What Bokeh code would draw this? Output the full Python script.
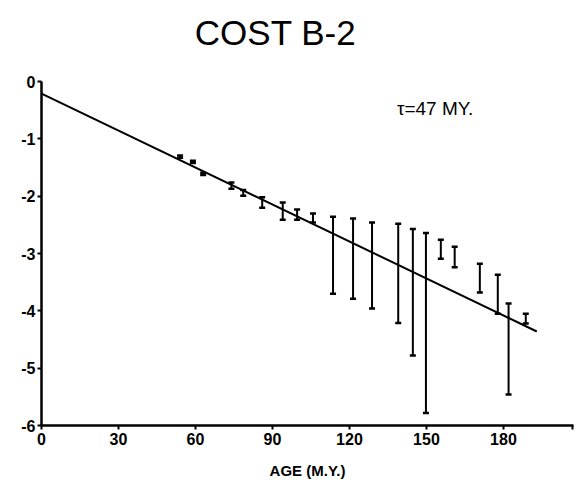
from bokeh.plotting import figure
from bokeh.models import FixedTicker, Label, Range1d, ColumnDataSource
from bokeh.embed import file_html
from bokeh.resources import INLINE

# ---- data ----
ages = [54, 59, 63, 74, 78.6, 86, 94, 99.6, 105.8, 113.6, 121.4, 128.8,
        139, 144.7, 149.8, 155.6, 161, 170.8, 177.8, 182, 188.7]
upper = [-1.29, -1.38, -1.59, -1.76, -1.89, -2.02, -2.11, -2.23, -2.30, -2.36,
         -2.39, -2.46, -2.48, -2.57, -2.64, -2.76, -2.88, -3.18, -3.37, -3.87, -4.05]
lower = [-1.33, -1.42, -1.63, -1.87, -1.99, -2.20, -2.41, -2.41, -2.46, -3.70,
         -3.79, -3.96, -4.21, -4.78, -5.78, -3.09, -3.24, -3.68, -4.05, -5.46, -4.22]

fit_x = [0, 193]
fit_y = [-0.21, -4.36]

x_ticks = [0, 30, 60, 90, 120, 150, 180, 207]
x_tick_labels = ["0", "30", "60", "90", "120", "150", "180", ""]
y_ticks = [0, -1, -2, -3, -4, -5, -6]
y_tick_labels = ["0", "-1", "-2", "-3", "-4", "-5", "-6"]

title_text = "COST B-2"
tau_text = "\u03c4=47 MY."
x_label = "AGE (M.Y.)"

src = ColumnDataSource(dict(x=ages, lo=lower, hi=upper))

# y range extends above 0 to leave room for the title inside the frame
p = figure(width=575, height=482, output_backend="svg", toolbar_location=None,
           x_range=Range1d(0, 207.3), y_range=Range1d(-6, 1.414),
           min_border_left=41, min_border_right=2, min_border_top=0,
           min_border_bottom=57)
p.outline_line_color = None
p.grid.visible = False
p.background_fill_color = "white"
p.border_fill_color = "white"

for ax in (p.xaxis[0], p.yaxis[0]):
    ax.axis_line_width = 2.5
    ax.axis_line_color = "black"
    ax.major_tick_line_width = 2
    ax.major_tick_line_color = "black"
    ax.major_tick_out = 4
    ax.major_tick_in = 0
    ax.minor_tick_line_color = None
    ax.major_label_text_font = "Liberation Sans"
    ax.major_label_text_font_style = "bold"
    ax.major_label_text_font_size = "16px"
    ax.major_label_text_color = "black"

p.yaxis.bounds = (-6, 0)
p.xaxis.ticker = FixedTicker(ticks=x_ticks)
p.xaxis.major_label_overrides = {t: l for t, l in zip(x_ticks, x_tick_labels)}
p.yaxis.ticker = FixedTicker(ticks=y_ticks)
p.yaxis.major_label_overrides = {t: l for t, l in zip(y_ticks, y_tick_labels)}
p.xaxis.major_label_standoff = 3
p.yaxis.major_label_standoff = 2

p.xaxis.axis_label = x_label
p.xaxis.axis_label_text_font = "Liberation Sans"
p.xaxis.axis_label_text_font_style = "bold"
p.xaxis.axis_label_text_font_size = "15px"
p.xaxis.axis_label_text_color = "black"
p.xaxis.axis_label_standoff = 14

# fit line
p.line(fit_x, fit_y, line_color="black", line_width=2)

# error bars
p.segment(x0="x", y0="lo", x1="x", y1="hi", source=src, line_color="black", line_width=2)
p.scatter(x="x", y="hi", source=src, marker="dash", size=6, line_color="black", line_width=2.5)
p.scatter(x="x", y="lo", source=src, marker="dash", size=6, line_color="black", line_width=2.5)

p.add_layout(Label(x=91.2, y=0.855, text=title_text, text_font="Liberation Sans",
                   text_font_size="35px", text_color="black", text_align="center",
                   text_baseline="alphabetic"))
p.add_layout(Label(x=138.5, y=-0.47, text=tau_text, text_font="Liberation Sans",
                   text_font_size="19px", text_color="black", text_baseline="alphabetic"))

open("out.html", "w").write(file_html(p, INLINE))
